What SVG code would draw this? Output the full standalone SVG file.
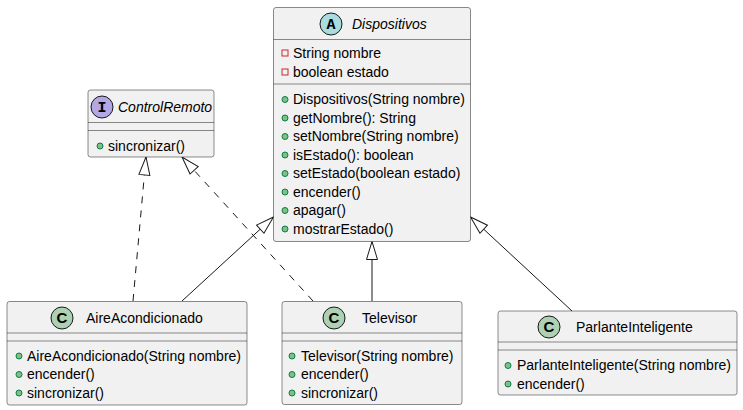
<svg xmlns="http://www.w3.org/2000/svg" width="743" height="410" viewBox="0 0 743 410">
<defs>
<style>
.box{fill:#F1F1F1;stroke:#181818;stroke-width:0.5}
.sep{stroke:#181818;stroke-width:0.5}
.t{font-family:"Liberation Sans",Arial,sans-serif;font-size:14px;fill:#000}
.ti{font-family:"Liberation Sans",Arial,sans-serif;font-size:14px;font-style:italic;fill:#000}
.pub{fill:#84BE84;stroke:#038048;stroke-width:1}
.priv{fill:none;stroke:#C82930;stroke-width:1}
.edge{stroke:#181818;stroke-width:1;fill:none}
.dash{stroke-dasharray:7,7}
.st{font-family:"Liberation Mono",monospace;font-size:15px;font-weight:bold;fill:#000;text-anchor:middle}
.sc{font-family:"Liberation Sans",Arial,sans-serif;font-size:15px;font-weight:bold;fill:#000;text-anchor:middle}
.circ{stroke:#181818;stroke-width:1}
</style>
<marker id="ext" markerUnits="userSpaceOnUse" markerWidth="22" markerHeight="14" refX="19" refY="7" orient="auto" viewBox="0 0 22 14">
<path d="M1,1.5 L19,7 L1,12.5 Z" fill="#FFFFFF" stroke="#181818" stroke-width="1"/>
</marker>
</defs>
<rect width="743" height="410" fill="#FFFFFF"/>

<g id="edges">
<path class="edge dash" d="M133,301 L146,157" marker-end="url(#ext)"/>
<path class="edge dash" d="M313,301 L182,157" marker-end="url(#ext)"/>
<path class="edge" d="M182,301 L273.5,217" marker-end="url(#ext)"/>
<path class="edge" d="M372,301 L372,241.5" marker-end="url(#ext)"/>
<path class="edge" d="M572,311 L470.5,217" marker-end="url(#ext)"/>
</g>

<g id="Dispositivos">
<rect class="box" x="273.5" y="7.5" width="197" height="234" rx="2.5"/>
<circle class="circ" cx="331" cy="24" r="11" fill="#A9DCDF"/>
<text class="st" x="331" y="29">A</text>
<text class="ti" x="352" y="29">Dispositivos</text>
<line class="sep" x1="273.5" y1="39.5" x2="470.5" y2="39.5"/>
<rect class="priv" x="282" y="50" width="6" height="6"/>
<text class="t" x="293" y="58">String nombre</text>
<rect class="priv" x="282" y="69" width="6" height="6"/>
<text class="t" x="293" y="77">boolean estado</text>
<line class="sep" x1="273.5" y1="84" x2="470.5" y2="84"/>
<circle class="pub" cx="285" cy="99.5" r="3"/>
<text class="t" x="293" y="104">Dispositivos(String nombre)</text>
<circle class="pub" cx="285" cy="118" r="3"/>
<text class="t" x="293" y="122.5">getNombre(): String</text>
<circle class="pub" cx="285" cy="136.5" r="3"/>
<text class="t" x="293" y="141">setNombre(String nombre)</text>
<circle class="pub" cx="285" cy="155" r="3"/>
<text class="t" x="293" y="159.5">isEstado(): boolean</text>
<circle class="pub" cx="285" cy="173.5" r="3"/>
<text class="t" x="293" y="178">setEstado(boolean estado)</text>
<circle class="pub" cx="285" cy="192" r="3"/>
<text class="t" x="293" y="196.5">encender()</text>
<circle class="pub" cx="285" cy="210.5" r="3"/>
<text class="t" x="293" y="215">apagar()</text>
<circle class="pub" cx="285" cy="229" r="3"/>
<text class="t" x="293" y="233.5">mostrarEstado()</text>
</g>

<g id="ControlRemoto">
<rect class="box" x="88" y="90" width="126" height="67" rx="2.5"/>
<circle class="circ" cx="102" cy="107" r="11" fill="#B4A7E5"/>
<text class="st" x="102" y="112">I</text>
<text class="ti" x="118" y="112">ControlRemoto</text>
<line class="sep" x1="88" y1="122.5" x2="214" y2="122.5"/>
<line class="sep" x1="88" y1="130.5" x2="214" y2="130.5"/>
<circle class="pub" cx="100" cy="146" r="3"/>
<text class="t" x="108" y="150.5">sincronizar()</text>
</g>

<g id="AireAcondicionado">
<rect class="box" x="7" y="301.5" width="240" height="103.5" rx="2.5"/>
<circle class="circ" cx="62" cy="318" r="11" fill="#ADD1B2"/>
<text class="sc" x="62" y="323">C</text>
<text class="t" x="86" y="323">AireAcondicionado</text>
<line class="sep" x1="7" y1="333" x2="247" y2="333"/>
<line class="sep" x1="7" y1="341" x2="247" y2="341"/>
<circle class="pub" cx="19" cy="356" r="3"/>
<text class="t" x="27" y="360.5">AireAcondicionado(String nombre)</text>
<circle class="pub" cx="19" cy="374.5" r="3"/>
<text class="t" x="27" y="379">encender()</text>
<circle class="pub" cx="19" cy="393" r="3"/>
<text class="t" x="27" y="397.5">sincronizar()</text>
</g>

<g id="Televisor">
<rect class="box" x="282" y="301.5" width="180" height="103" rx="2.5"/>
<circle class="circ" cx="334" cy="318" r="11" fill="#ADD1B2"/>
<text class="sc" x="334" y="323">C</text>
<text class="t" x="362" y="323">Televisor</text>
<line class="sep" x1="282" y1="333" x2="462" y2="333"/>
<line class="sep" x1="282" y1="341" x2="462" y2="341"/>
<circle class="pub" cx="292" cy="356" r="3"/>
<text class="t" x="301" y="360.5">Televisor(String nombre)</text>
<circle class="pub" cx="292" cy="374.5" r="3"/>
<text class="t" x="301" y="379">encender()</text>
<circle class="pub" cx="292" cy="393" r="3"/>
<text class="t" x="301" y="397.5">sincronizar()</text>
</g>

<g id="ParlanteInteligente">
<rect class="box" x="498" y="311" width="239" height="84" rx="2.5"/>
<circle class="circ" cx="549" cy="327" r="11" fill="#ADD1B2"/>
<text class="sc" x="549" y="332">C</text>
<text class="t" x="576" y="332">ParlanteInteligente</text>
<line class="sep" x1="498" y1="342" x2="737" y2="342"/>
<line class="sep" x1="498" y1="350" x2="737" y2="350"/>
<circle class="pub" cx="508" cy="365.5" r="3"/>
<text class="t" x="517" y="370">ParlanteInteligente(String nombre)</text>
<circle class="pub" cx="508" cy="384" r="3"/>
<text class="t" x="517" y="388.5">encender()</text>
</g>
</svg>
